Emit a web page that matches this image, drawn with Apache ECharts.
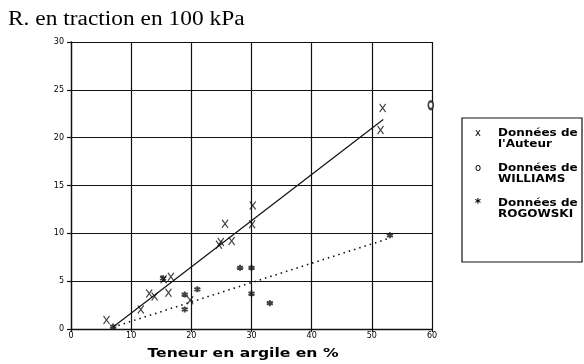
<!DOCTYPE html>
<html>
<head>
<meta charset="utf-8">
<script src="https://cdn.jsdelivr.net/npm/echarts@6/dist/echarts.min.js"></script>
<style>html,body{margin:0;padding:0;background:#fff}#c{width:584px;height:364px}</style>
</head>
<body>
<div id="c"></div>
<script>
// Tick labels
const xTicks = [0, 10, 20, 30, 40, 50, 60];
const yTicks = [0, 5, 10, 15, 20, 25, 30];
// Données de l'Auteur (clay %, tensile strength)
const authorX = [5.9, 11.6, 13.0, 13.9, 15.4, 16.6, 16.2, 19.8, 24.6, 24.9, 25.6, 26.7, 30.1, 30.2, 51.45, 51.8];
const authorY = [0.95, 2.05, 3.7, 3.4, 5.2, 5.45, 3.8, 3.0, 8.8, 9.1, 11.0, 9.2, 10.95, 12.9, 20.8, 23.1];
// Données de WILLIAMS
const williamsX = [59.8];
const williamsY = [23.4];
// Données de ROGOWSKI
const rogowskiX = [7.0, 15.3, 18.9, 18.9, 21.0, 28.1, 30.0, 30.0, 33.05, 53.0];
const rogowskiY = [0.25, 5.3, 3.6, 2.05, 4.15, 6.4, 6.4, 3.7, 2.7, 9.8];
// Regression lines (end points)
const authorFitX = [7.0, 51.9];
const authorFitY = [0.2, 21.9];
const rogowskiFitX = [7.0, 53.0];
const rogowskiFitY = [0.2, 9.5];

const zip = (a, b) => a.map((v, i) => [v, b[i]]);
const chart = echarts.init(document.getElementById('c'), null, {renderer: 'canvas'});
const black = '#111';
const xPath = 'path://M0,0L6,8M6,0L0,8';
const starPath = 'path://M0,-5L0,5M-4.33,-2.5L4.33,2.5M-4.33,2.5L4.33,-2.5';

chart.setOption({
  animation: false,
  backgroundColor: '#fff',
  grid: {left: 71, top: 42, width: 361, height: 287},
  xAxis: {
    type: 'value', min: 0, max: 60, interval: 10,
    axisLine: {show: true, lineStyle: {color: black, width: 1.3}},
    axisTick: {show: true, length: 3, lineStyle: {color: black, width: 1.2}},
    splitLine: {show: true, lineStyle: {color: black, width: 1.2}},
    axisLabel: {color: '#000', fontSize: 8, fontFamily: 'DejaVu Sans', margin: 3,
      formatter: v => xTicks.includes(v) ? String(v) : ''}
  },
  yAxis: {
    type: 'value', min: 0, max: 30, interval: 5,
    axisLine: {show: true, lineStyle: {color: black, width: 1.3}},
    axisTick: {show: true, length: 4, lineStyle: {color: black, width: 1.2}},
    splitLine: {show: true, lineStyle: {color: black, width: 1.2}},
    axisLabel: {color: '#000', fontSize: 8, fontFamily: 'DejaVu Sans', margin: 7,
      formatter: v => yTicks.includes(v) ? String(v) : ''}
  },
  series: [
    {type: 'line', data: zip(authorFitX, authorFitY), symbol: 'none',
      lineStyle: {color: black, width: 1.2}, z: 3},
    {type: 'line', data: zip(rogowskiFitX, rogowskiFitY), symbol: 'none',
      lineStyle: {color: black, width: 1.6, type: [1.5, 4]}, z: 3},
    {name: "Données de l'Auteur", type: 'scatter', data: zip(authorX, authorY),
      symbol: xPath, symbolSize: [6, 8],
      itemStyle: {color: 'none', borderColor: black, borderWidth: 1.2}, z: 4},
    {name: 'Données de WILLIAMS', type: 'scatter', data: zip(williamsX, williamsY),
      symbol: 'emptyCircle', symbolSize: [5, 8], clip: false,
      itemStyle: {color: black, borderColor: black, borderWidth: 1.4}, z: 4},
    {name: 'Données de ROGOWSKI', type: 'scatter', data: zip(rogowskiX, rogowskiY),
      symbol: starPath, symbolSize: 6,
      itemStyle: {color: 'none', borderColor: black, borderWidth: 2}, z: 4}
  ],
  graphic: [
    {type: 'text', x: 8, y: 20, scaleX: 1.17, style: {text: 'R. en traction en 100 kPa',
      font: '20px "Liberation Serif"', fill: '#000', verticalAlign: 'middle'}},
    {type: 'text', x: 243, y: 354, scaleX: 1.3, style: {text: 'Teneur en argile en %',
      font: 'bold 12px "DejaVu Sans"', fill: '#000', align: 'center', verticalAlign: 'middle'}},
    {type: 'rect', shape: {x: 462, y: 118, width: 120, height: 144},
      style: {fill: 'none', stroke: black, lineWidth: 1.2}},
    {type: 'text', x: 478, y: 133, style: {text: 'x', font: '10px "DejaVu Sans"', fill: '#000', align: 'center', verticalAlign: 'middle'}},
    {type: 'text', x: 478, y: 168, style: {text: 'o', font: '10px "DejaVu Sans"', fill: '#000', align: 'center', verticalAlign: 'middle'}},
    {type: 'text', x: 478, y: 204, style: {text: '*', font: 'bold 12px "DejaVu Sans"', fill: '#000', align: 'center', verticalAlign: 'middle'}},
    {type: 'text', x: 498, y: 133, scaleX: 1.2, style: {text: 'Données de', font: 'bold 10px "DejaVu Sans"', fill: '#000', verticalAlign: 'middle'}},
    {type: 'text', x: 498, y: 144, scaleX: 1.2, style: {text: "l'Auteur", font: 'bold 10px "DejaVu Sans"', fill: '#000', verticalAlign: 'middle'}},
    {type: 'text', x: 498, y: 168, scaleX: 1.2, style: {text: 'Données de', font: 'bold 10px "DejaVu Sans"', fill: '#000', verticalAlign: 'middle'}},
    {type: 'text', x: 498, y: 179, scaleX: 1.2, style: {text: 'WILLIAMS', font: 'bold 10px "DejaVu Sans"', fill: '#000', verticalAlign: 'middle'}},
    {type: 'text', x: 498, y: 203, scaleX: 1.2, style: {text: 'Données de', font: 'bold 10px "DejaVu Sans"', fill: '#000', verticalAlign: 'middle'}},
    {type: 'text', x: 498, y: 214, scaleX: 1.2, style: {text: 'ROGOWSKI', font: 'bold 10px "DejaVu Sans"', fill: '#000', verticalAlign: 'middle'}}
  ]
});
</script>
</body>
</html>
